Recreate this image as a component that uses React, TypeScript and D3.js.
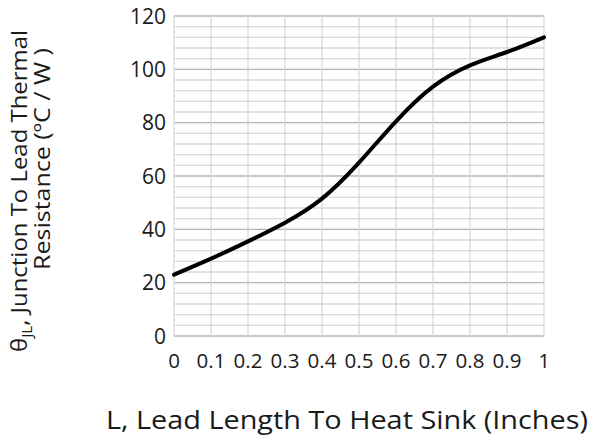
import React from "react";
import * as d3 from "d3";

const xValues = [0, 0.1, 0.2, 0.3, 0.4, 0.5, 0.6, 0.7, 0.8, 0.9, 1.0];
const yValues = [23, 29, 35.5, 42.5, 51.5, 65, 80.5, 93.5, 101.5, 106.5, 112];
const xTicks = [0, 0.1, 0.2, 0.3, 0.4, 0.5, 0.6, 0.7, 0.8, 0.9, 1];
const yTicks = [0, 20, 40, 60, 80, 100, 120];
const yMinor = d3.range(0, 121, 4);

export default function App() {
  const W = 593, H = 442;
  const left = 174, right = 544, top = 16, bottom = 336;
  const x = d3.scaleLinear().domain([0, 1]).range([left, right]);
  const y = d3.scaleLinear().domain([0, 120]).range([bottom, top]);
  const pts = xValues.map((v, i) => [v, yValues[i]] as [number, number]);
  const line = d3.line<[number, number]>().x(d => x(d[0])).y(d => y(d[1])).curve(d3.curveNatural);
  const font = "'Open Sans', 'Noto Sans', sans-serif";
  return (
    <svg width={W} height={H} style={{ position: "absolute", left: 0, top: 0, background: "#fff" }}>
      {yMinor.map(v => (
        <line key={"h" + v} x1={left} x2={right} y1={y(v)} y2={y(v)}
          stroke={v % 20 === 0 ? "#b4b4b4" : "#d9d9d9"} strokeWidth={1.3} />
      ))}
      {xTicks.map(v => (
        <line key={"v" + v} x1={x(v)} x2={x(v)} y1={top} y2={bottom} stroke="#d9d9d9" strokeWidth={1.3} />
      ))}
      <path d={line(pts) || ""} fill="none" stroke="#000" strokeWidth={4} strokeLinecap="round" />
      {yTicks.map(v => (
        <text key={"yt" + v} x={166} y={y(v)} dy="0.36em" textAnchor="end" fontFamily={font} fontSize={21} fill="#1a1a1a">{v}</text>
      ))}
      {xTicks.map(v => (
        <text key={"xt" + v} x={x(v)} y={368} textAnchor="middle" fontFamily={font} fontSize={20.5} fill="#1a1a1a">{v}</text>
      ))}
      <text x={106} y={429} textLength={482} lengthAdjust="spacingAndGlyphs" fontFamily={font} fontSize={26} fill="#1a1a1a">L, Lead Length To Heat Sink (Inches)</text>
      <g transform="rotate(-90)">
        <text x={-352} y={27} textLength={322} lengthAdjust="spacingAndGlyphs" fontFamily={font} fontSize={22} fill="#1a1a1a">
          θ<tspan fontSize={14} dy={5}>JL</tspan><tspan dy={-5}>, Junction To Lead Thermal</tspan>
        </text>
        <text x={-270} y={50} textLength={222} lengthAdjust="spacingAndGlyphs" fontFamily={font} fontSize={22} fill="#1a1a1a">Resistance (ºC / W )</text>
      </g>
    </svg>
  );
}
